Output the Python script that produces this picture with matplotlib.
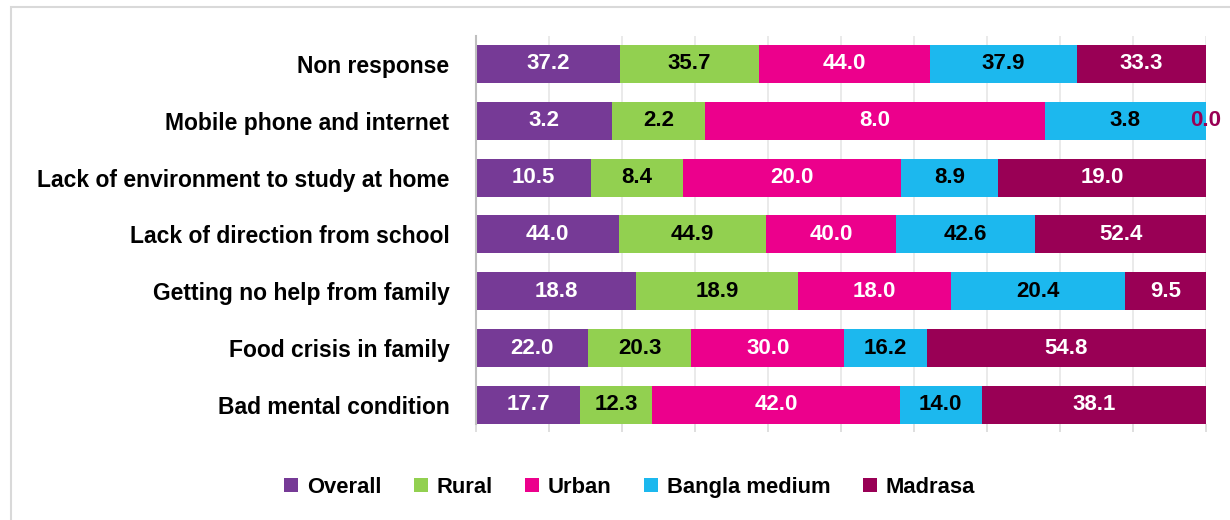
import matplotlib.pyplot as plt
from matplotlib.patches import Rectangle
import numpy as np

plt.rcParams['font.family'] = ['Liberation Sans', 'DejaVu Sans']
plt.rcParams['font.weight'] = 'bold'

# categories listed top to bottom
categories = ["Non response", "Mobile phone and internet",
              "Lack of environment to study at home", "Lack of direction from school",
              "Getting no help from family", "Food crisis in family", "Bad mental condition"]
groups = ["Overall", "Rural", "Urban", "Bangla medium", "Madrasa"]

overall = [37.2, 3.2, 10.5, 44.0, 18.8, 22.0, 17.7]
rural = [35.7, 2.2, 8.4, 44.9, 18.9, 20.3, 12.3]
urban = [44.0, 8.0, 20.0, 40.0, 18.0, 30.0, 42.0]
bangla = [37.9, 3.8, 8.9, 42.6, 20.4, 16.2, 14.0]
madrasa = [33.3, 0.0, 19.0, 52.4, 9.5, 54.8, 38.1]

colors = ["#763A96", "#92D050", "#EC008C", "#1CB8EE", "#990055"]
text_colors = ["white", "black", "white", "black", "white"]

data = np.array([overall, rural, urban, bangla, madrasa])
shares = data / data.sum(axis=0)

fig = plt.figure(figsize=(12.3, 5.2), dpi=100)
ax = fig.add_axes([0.387, 0.1846, 0.5935, 0.746])

y = np.arange(len(categories))[::-1]
left = np.zeros(len(categories))
for i, g in enumerate(groups):
    ax.barh(y, shares[i], left=left, height=0.67, color=colors[i], label=g, zorder=2)
    for j in range(len(categories)):
        val = data[i, j]
        cx = left[j] + shares[i, j] / 2
        # a zero segment has no width, so its label takes the series colour
        tc = colors[i] if val == 0 else text_colors[i]
        ax.text(cx, y[j], f"{val:.1f}", ha="center", va="center",
                color=tc, fontsize=16, fontweight="bold", zorder=3)
    left += shares[i]

ax.set_xlim(0, 1)
ax.set_ylim(-0.335, 6.49)
ax.set_xticks(np.arange(0, 1.01, 0.1))
ax.set_xticklabels([])
ax.set_yticks(y)
ax.set_yticklabels(categories, fontsize=16.5, fontweight="bold")
ax.tick_params(axis="y", length=0, pad=19)
ax.tick_params(axis="x", direction="out", length=6, color="#D9D9D9", width=1.2)
ax.grid(axis="x", color="#E6E6E6", linewidth=1.2, zorder=0)
for s in ["top", "right", "bottom"]:
    ax.spines[s].set_visible(False)
ax.spines["left"].set_color("#BFBFBF")
ax.spines["left"].set_linewidth(1.5)
ax.spines["left"].set_zorder(3)

leg = fig.legend(loc="center", bbox_to_anchor=(0.512, 0.063), ncol=5, frameon=False,
                 handlelength=0.62, handleheight=0.62, handletextpad=0.4,
                 columnspacing=1.5, prop={"family": ["Liberation Sans", "DejaVu Sans"], "weight": "bold", "size": 15.8})

# outer chart border
fig.patches.append(Rectangle((11 / 1230, -0.1), 1.2, 1 - 7 / 520 + 0.1, transform=fig.transFigure,
                             fill=False, edgecolor="#D9D9D9", linewidth=1.5))

fig.savefig("out.png", dpi=100)
